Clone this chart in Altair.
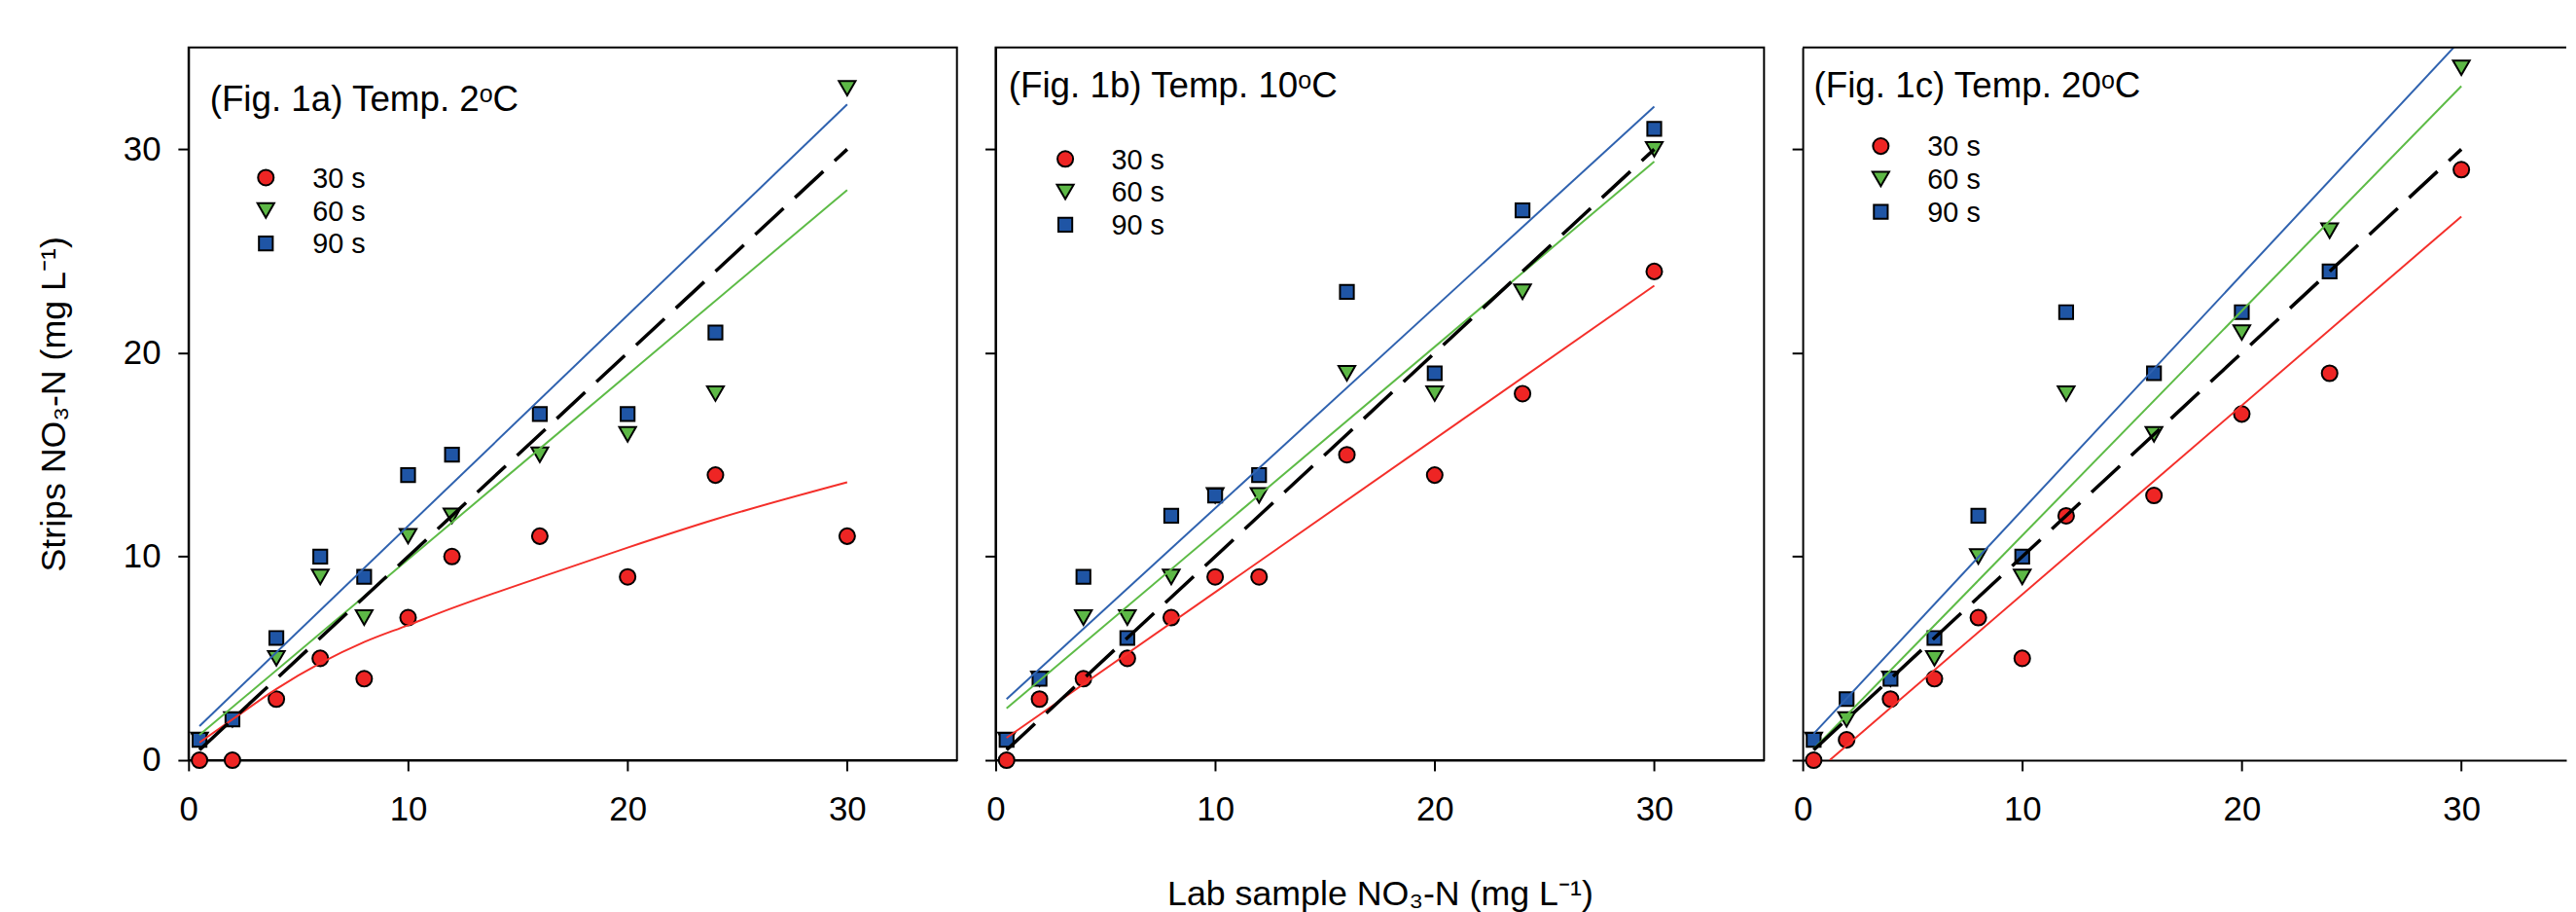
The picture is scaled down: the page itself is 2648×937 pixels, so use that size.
import altair as alt
import pandas as pd

FONT = "Liberation Sans"

# ---------------- data ----------------
lab_x = [0.5, 2, 4, 6, 8, 10, 12, 16, 20, 24, 30]
series_names = ["30 s", "60 s", "90 s"]

# Fig. 1a  (2 degC)
a_30 = [0, 0, 3, 5, 4, 7, 10, 11, 9, 14, 11]
a_60 = [1, 2, 5, 9, 7, 11, 12, 15, 16, 18, 33]
a_90 = [1, 2, 6, 10, 9, 14, 15, 17, 17, 21, None]
# Fig. 1b  (10 degC)
b_30 = [0, 3, 4, 5, 7, 9, 9, 15, 14, 18, 24]
b_60 = [1, 4, 7, 7, 9, 13, 13, 19, 18, 23, 30]
b_90 = [1, 4, 9, 6, 12, 13, 14, 23, 19, 27, 31]
# Fig. 1c  (20 degC)
c_30 = [0, 1, 3, 4, 7, 5, 12, 13, 17, 19, 29]
c_60 = [1, 2, 4, 5, 10, 9, 18, 16, 21, 26, 34]
c_90 = [1, 3, 4, 6, 12, 10, 22, 19, 22, 24, None]

# fitted regression lines
a_fit30_x = [0.5, 2, 4, 6, 8, 10, 12, 16, 20, 24, 30]
a_fit30_y = [0.87, 2.0, 3.5, 4.76, 5.8, 6.63, 7.46, 8.97, 10.44, 11.83, 13.65]
a_fit60_x = [0.5, 30]
a_fit60_y = [1.24, 28.0]
a_fit90_x = [0.5, 30]
a_fit90_y = [1.67, 32.2]

b_fit30_x = [0.5, 30]
b_fit30_y = [1.1, 23.3]
b_fit60_x = [0.5, 30]
b_fit60_y = [2.55, 29.4]
b_fit90_x = [0.5, 30]
b_fit90_y = [3.0, 32.1]

c_fit30_x = [1.23, 30]
c_fit30_y = [0.0, 26.7]
c_fit60_x = [0.5, 30]
c_fit60_y = [0.55, 33.1]
c_fit90_x = [0.5, 30]
c_fit90_y = [1.3, 35.4]

# 1:1 reference line
one_x = [0.5, 30]
one_y = [0.5, 30]

panel_titles = ["(Fig. 1a) Temp. 2ᵒC", "(Fig. 1b) Temp. 10ᵒC", "(Fig. 1c) Temp. 20ᵒC"]
x_title = "Lab sample NO₃-N (mg L⁻¹)"
y_title = "Strips NO₃-N (mg L⁻¹)"
tick_vals = [0, 10, 20, 30]

# ---------------- styles ----------------
fill_col = {"30 s": "#EE2524", "60 s": "#5DB846", "90 s": "#1F55A5"}
line_col = {"30 s": "#F42F2A", "60 s": "#5DBB46", "90 s": "#2F62AF"}
shape_of = {"30 s": "circle", "60 s": "triangle-down", "90 s": "square"}
marker_size = {"30 s": 262, "60 s": 300, "90 s": 205}

PX_PER_UNIT = 795 / 35.0
H = 737
ROW = 34  # legend row spacing (px)


def make_panel(s30, s60, s90, fits, title, width, show_ylab, show_xtitle,
               legend_pos, title_xy, open_right):
    vals_by = {"30 s": s30, "60 s": s60, "90 s": s90}

    xmax = width / PX_PER_UNIT
    xs = alt.Scale(domain=[0, xmax], nice=False, zero=False)
    ys = alt.Scale(domain=[0, 35], nice=False, zero=False)
    if show_xtitle:
        xax = alt.Axis(values=tick_vals, labelPadding=23, labelFlush=False,
                       title=x_title, titlePadding=52)
    else:
        xax = alt.Axis(values=tick_vals, labelPadding=23, labelFlush=False, title=None)
    if show_ylab:
        yax = alt.Axis(values=tick_vals, labelPadding=18, labelFlush=False,
                       title=y_title, titlePadding=52)
    else:
        yax = alt.Axis(values=tick_vals, labels=False, title=None)

    X = alt.X("x:Q", scale=xs, axis=xax)
    Y = alt.Y("y:Q", scale=ys, axis=yax)

    layers = []
    # drawing order: triangles, squares, circles on top
    for name in ["60 s", "90 s", "30 s"]:
        xv = [a for a, b in zip(lab_x, vals_by[name]) if b is not None]
        yv = [b for b in vals_by[name] if b is not None]
        dfp = pd.DataFrame({"x": xv, "y": yv})
        layers.append(alt.Chart(dfp).mark_point(
            filled=True, fill=fill_col[name], shape=shape_of[name], stroke="black",
            strokeWidth=2, opacity=1, size=marker_size[name]).encode(x=X, y=Y))

    for name in ["30 s", "60 s", "90 s"]:
        fx, fy = fits[name]
        dfl = pd.DataFrame({"x": fx, "y": fy})
        layers.append(alt.Chart(dfl).mark_line(color=line_col[name], strokeWidth=2, clip=True,
                                               interpolate="monotone").encode(x=X, y=Y))
    dfo = pd.DataFrame({"x": one_x, "y": one_y})
    layers.append(alt.Chart(dfo).mark_line(color="black", strokeWidth=3.5, strokeDash=[40, 16],
                                           clip=True).encode(x=X, y=Y))

    # panel title
    dft = pd.DataFrame({"t": [title]})
    layers.append(alt.Chart(dft).mark_text(align="left", baseline="alphabetic", font=FONT,
                                           fontSize=37, color="black").encode(
        text="t:N", x=alt.value(title_xy[0]), y=alt.value(title_xy[1])))

    # legend (symbol + label per series)
    sx, sy0, lx = legend_pos
    for i, name in enumerate(series_names):
        dfn = pd.DataFrame({"series": [name]})
        cy = sy0 + i * ROW
        layers.append(alt.Chart(dfn).mark_point(
            filled=True, fill=fill_col[name], shape=shape_of[name], stroke="black",
            strokeWidth=2, opacity=1, size=marker_size[name]).encode(
            x=alt.value(sx), y=alt.value(cy)))
        layers.append(alt.Chart(dfn).mark_text(
            align="left", baseline="alphabetic", font=FONT, fontSize=29, color="black").encode(
            text="series:N", x=alt.value(lx), y=alt.value(cy + 10.4)))

    if open_right:
        dfr = pd.DataFrame({"y": [35]})
        layers.append(alt.Chart(dfr).mark_rule(color="black", strokeWidth=2).encode(y=Y))

    ch = alt.layer(*layers).properties(width=width, height=H)
    if open_right:
        ch = ch.properties(view=alt.ViewBackground(stroke="transparent"))
    return ch


p1 = make_panel(a_30, a_60, a_90,
                {"30 s": (a_fit30_x, a_fit30_y), "60 s": (a_fit60_x, a_fit60_y), "90 s": (a_fit90_x, a_fit90_y)},
                panel_titles[0], 795, True, False, (80, 134.6, 128.3), (22, 65.6), False)
p2 = make_panel(b_30, b_60, b_90,
                {"30 s": (b_fit30_x, b_fit30_y), "60 s": (b_fit60_x, b_fit60_y), "90 s": (b_fit90_x, b_fit90_y)},
                panel_titles[1], 795, False, True, (72.1, 115.3, 119.9), (13.4, 51.3), False)
p3 = make_panel(c_30, c_60, c_90,
                {"30 s": (c_fit30_x, c_fit30_y), "60 s": (c_fit60_x, c_fit60_y), "90 s": (c_fit90_x, c_fit90_y)},
                panel_titles[2], 790, False, False, (80.8, 102, 129.1), (11.5, 51.3), True)

chart = alt.hconcat(p1, p2, p3, spacing=26).resolve_scale(
    x="independent", y="independent"
).properties(
    padding={"left": 29, "top": 36, "right": 0, "bottom": 0},
    background="white",
).configure_view(
    stroke="black", strokeWidth=2
).configure_axis(
    domainColor="black", domainWidth=2, tickColor="black", tickWidth=2, tickSize=11,
    labelFont=FONT, labelFontSize=35, labelColor="black",
    titleFont=FONT, titleFontSize=36, titleFontWeight="normal", titleColor="black",
    grid=False,
)

chart.save("out.html", embed_options={"renderer": "svg", "actions": False})
